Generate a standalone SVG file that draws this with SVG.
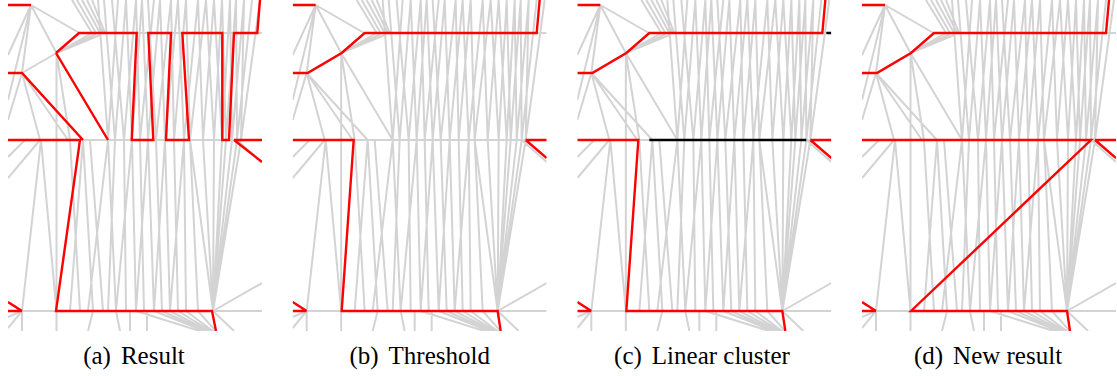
<svg xmlns="http://www.w3.org/2000/svg" xmlns:xlink="http://www.w3.org/1999/xlink" width="1117" height="376" viewBox="0 0 1117 376">
<style>
.g{fill:none;stroke:#d3d3d3;stroke-width:2}
.r{fill:none;stroke:#ff0000;stroke-width:2.4;stroke-linejoin:miter}
.k{fill:none;stroke:#000000;stroke-width:2.4}
.cap{font-family:"Liberation Serif","Times New Roman",serif;font-size:25px;fill:#000;text-anchor:middle}
</style>
<defs>
<clipPath id="clip"><rect x="0" y="0" width="254" height="331"/></clipPath>
<g id="bg">
<path class="g" d="M71.5 33H254M0 140H254M0 311H254
M23 5L0 55M23 5L0 100M23 5L14 73M23 5L48.5 53M23 5L71.5 33
M14 73L0 120M14 73L32 140M14 73L60 140M14 73L75 140M14 73L48.5 53
M48.5 53L48.5 140M48.5 53L62 140M48.5 53L100 140M48.5 53L84 33M48.5 53L88 34M48.5 53L92 35
M64 0L84 33M69 0L88 33M74 0L92 33M79 0L95 33M84 0L97 33
M90 0L100 140M110 0L100 140M96 0L107 140M118 0L107 140M104 0L116 140M128 0L116 140M118 0L124 140M134 0L124 140M128 0L132 140M146 0L132 140M134 0L140 140M152 0L140 140M140 0L148 140M163 0L148 140M152 0L157 140M170 0L157 140M163 0L166 140M178 0L166 140M170 0L176 140M190 0L176 140M178 0L182 140M198 0L182 140M206 0L195 140M190 0L195 140M214 0L206 140M198 0L206 140M222 0L214 140M206 0L214 140M228 0L218 140M214 0L218 140M236 0L224 140M222 0L224 140M244 0L229 140M228 0L229 140M252 0L233 140M236 0L233 140
M17 140L0 157M32 140L0 178
M33 140L14 311M33 140L48.5 311M48.5 140L48.5 311M62 140L72 311M75 140L62 311M75 140L85 311M82 140L95 311M100 140L80 311M100 140L108 311M107 140L100 311M116 140L118 311M124 140L108 311M124 140L128 311M132 140L136 311M140 140L128 311M140 140L146 311M148 140L154 311M157 140L146 311M157 140L162 311M166 140L170 311M176 140L162 311M176 140L178 311M182 140L190 311M182 140L205 311M195 140L205 311M206 140L205 311M214 140L205 311M218 140L205 311M224 140L205 311M229 140L205 311M233 140L205 311
M205 311L254 283M229 140L254 162
M14 311L0 328M14 311L14 331M14 311L0 317M48.5 311L48.5 331M85 311L80 331M108 311L112 331M122 311L122 331M139 311L139 331
M128 311L214 338M146 311L214 338M154 311L214 338M162 311L214 338M170 311L214 338M178 311L214 338M190 311L214 338M205 311L226 331"/>
</g>
</defs>

<g id="panel-a" transform="translate(8 0)">
<g clip-path="url(#clip)">
<use xlink:href="#bg" href="#bg"/>
<path class="r" d="M0 5H23M0 73H14L75 140M0 140H72L48 311H204L208 331M48 53L100 140M48 53L71 33H128.7L123.7 140H145.3L140.3 33H163L158 140H181L174.3 33H214.3L214.3 140H221L226 33H249.3L252 0M226 140H254M226 140L254 162M0 311H14M0 302L14 311"/>
</g>
</g>

<g id="panel-b" transform="translate(292.67 0)">
<g clip-path="url(#clip)">
<use xlink:href="#bg" href="#bg"/>
<path class="r" d="M0 5H23M0 73H15L49 53L72 33H244L247 0M0 311H14M0 302L14 311M233 140H254M233 140L254 158M0 140H61L49 311H205L208 331"/>
</g>
</g>

<g id="panel-c" transform="translate(577.33 0)">
<g clip-path="url(#clip)">
<use xlink:href="#bg" href="#bg"/>
<path class="r" d="M0 5H23M0 73H15L49 53L72 33H245L248 0M0 311H14M0 302L14 311M233 140H254M233 140L254 158M0 140H61L49 311H205L208 331"/>
<path class="k" d="M72 140H229M249 33H254"/>
</g>
</g>

<g id="panel-d" transform="translate(862 0)">
<g clip-path="url(#clip)">
<use xlink:href="#bg" href="#bg"/>
<path class="r" d="M0 5H23M0 73H15L49 53L72 33H244L247 0M0 311H14M0 302L14 311M233 140H254M233 140L254 158M0 140H229L49 311H205L208 331"/>
</g>
</g>

<g id="captions">
<text class="cap" x="134" y="364"><tspan>(a)</tspan><tspan dx="10">Result</tspan></text>
<text class="cap" x="419.67" y="364"><tspan>(b)</tspan><tspan dx="10">Threshold</tspan></text>
<text class="cap" x="702" y="364"><tspan>(c)</tspan><tspan dx="10">Linear cluster</tspan></text>
<text class="cap" x="988" y="364"><tspan>(d)</tspan><tspan dx="10">New result</tspan></text>
</g>
</svg>
